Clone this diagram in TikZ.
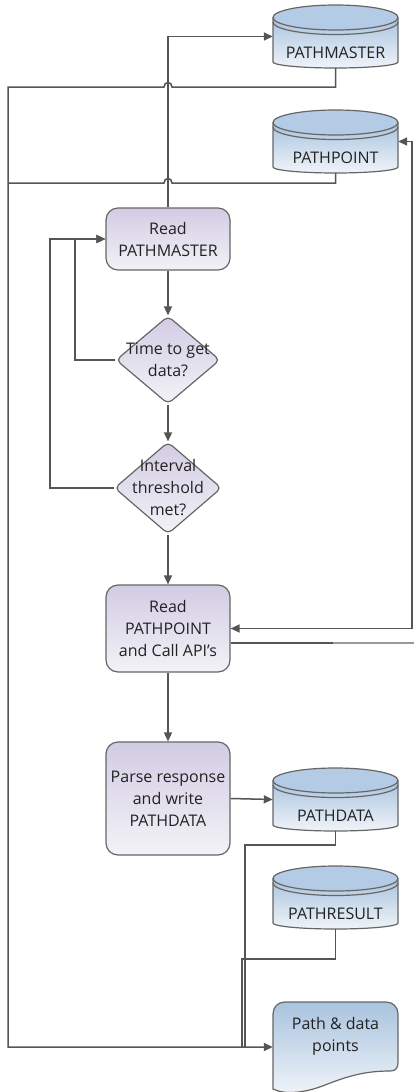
\documentclass[tikz,border=0pt]{standalone}
\usepackage{fontspec}
\setmainfont{Open Sans}
\usetikzlibrary{arrows.meta,shapes.geometric,calc}
\definecolor{edgec}{HTML}{666666}
\definecolor{connc}{HTML}{555555}
\definecolor{procTop}{HTML}{D2CCE3}
\definecolor{procBot}{HTML}{F3F2F7}
\definecolor{dbTop}{HTML}{A9C3DF}
\definecolor{dbBot}{HTML}{F0F4F9}
\definecolor{dbCap}{HTML}{B3CBE4}
\definecolor{txtc}{HTML}{222222}
\tikzset{
 proc/.style={draw=edgec, line width=1.2pt, rounded corners=12pt, top color=procTop, bottom color=procBot,
   minimum width=124pt, align=center, font=\fontsize{16}{22}\selectfont, text=txtc, inner sep=0pt},
 dia/.style={draw=edgec, line width=1.2pt, diamond, rounded corners=5pt, top color=procTop, bottom color=procBot, inner sep=0pt},
 lbl/.style={align=center, font=\fontsize{16}{22}\selectfont, text=txtc, inner sep=0pt},
 conn/.style={draw=connc, line width=1.5pt},
 tip/.tip={Triangle[length=9pt,width=8pt]},
 arr/.style={conn, -tip},
 anchorbox/.style={minimum width=125pt, minimum height=63pt, inner sep=0pt},
 dbedge/.style={draw=edgec, line width=1.2pt},
 dbshade/.style={top color=dbTop, bottom color=dbBot},
}
\newcommand{\dbcyl}[4]{%
 \begin{scope}[shift={(#2,#3)}]
  \path[dbshade] (0,12.5) -- (0,57) .. controls (0,60.3) and (28,63) .. (62.5,63) .. controls (97,63) and (125,60.3) .. (125,57) -- (125,12.5) -- cycle;
  \draw[dbedge] (0,12.5) -- (0,57) .. controls (0,60.3) and (28,63) .. (62.5,63) .. controls (97,63) and (125,60.3) .. (125,57) -- (125,12.5);
  \draw[dbedge, fill=dbCap] (62.5,12.5) ellipse [x radius=62.5, y radius=12.5];
  \draw[dbedge] (0,17) .. controls (0,23.9) and (28,29.5) .. (62.5,29.5) .. controls (97,29.5) and (125,23.9) .. (125,17);
  \node[anchorbox] (#1) at (62.5,31.5) {};
  \node[lbl] (#1-t) at (62.5,48) {#4};
 \end{scope}}
\begin{document}
\begin{tikzpicture}[x=1pt,y=-1pt]
\useasboundingbox[fill=white] (0,0) rectangle (414,1092);

% databases
\dbcyl{pm}{273}{5}{PATHMASTER}
\dbcyl{pp}{273}{110}{PATHPOINT}
\dbcyl{pd}{273}{768}{PATHDATA}
\dbcyl{pr}{273}{866}{PATHRESULT}

% document shape
\path[dbshade, dbedge]
 (273,1014) .. controls (273,1007) and (278,1002) .. (285,1002) -- (386,1002)
 .. controls (393,1002) and (398,1007) .. (398,1014) -- (398,1062)
 .. controls (398,1068) and (396,1071) .. (390,1071)
 .. controls (365,1071) and (348,1076) .. (325,1085)
 .. controls (305,1093) and (285,1095) .. (273,1089) -- cycle;
\node[anchorbox, minimum height=90pt] (doc) at (335.5,1047) {};
\node[lbl] (doc-t) at (335.5,1036) {Path \& data\\points};

% process nodes
\node[proc, minimum height=62pt] (rpm) at (168,239) {Read\\PATHMASTER};
\node[dia, minimum width=104pt, minimum height=88pt] (d1) at (168,360) {};
\node[lbl] (d1-t) at (d1) {Time to get\\data?};
\node[dia, minimum width=107pt, minimum height=92pt] (d2) at (168,488) {};
\node[lbl] (d2-t) at (d2) {Interval\\threshold\\met?};
\node[proc, minimum height=87pt] (rpp) at (168,628.5) {Read\\PATHPOINT\\and Call API’s};
\node[proc, minimum height=113pt] (parse) at (168,798.5) {Parse response\\and write\\PATHDATA};

% helper coordinates
\coordinate (h1a) at (164,87);
\coordinate (h1b) at (172,87);
\coordinate (h2a) at (164,183);
\coordinate (h2b) at (172,183);
\coordinate (L1) at (8,87);
\coordinate (L2) at (8,183);
\coordinate (k2) at (75,239);
\coordinate (k3) at (50,239);
\coordinate (r2) at (412,628.5);
\coordinate (ro) at ($(rpp.east)+(0,14.5)$);
\coordinate (re) at (414,643);
\coordinate (rm) at (333,643);
\coordinate (k4) at (245,845);
\coordinate (k5) at (245,1047);
\coordinate (k6) at (242,959);
\coordinate (k7) at (242,1047);

% connectors
\draw[arr] (rpm.north) |- (pm.west);
\draw[arr] (pm.south) |- (h1b) .. controls (172,81) and (164,81) .. (h1a) -- (L1) |- (doc.west);
\draw[conn] (pp.south) |- (h2b) .. controls (172,177) and (164,177) .. (h2a) -- (L2);
\draw[arr] (rpm.south) -- (d1.north);
\draw[arr] (d1.south) -- (d2.north);
\draw[arr] (d2.south) -- (rpp.north);
\draw[arr] (rpp.south) -- (parse.north);
\draw[arr] (d1.west) -| (k2) -- (rpm.west);
\draw[arr] (d2.west) -| (k3) -- (rpm.west);
\draw[conn, tip-tip] (pp.east) -| (r2) -- (rpp.east);
\draw[conn] (ro) -- (re);
\draw[draw=black!40, line width=2pt] (rm) -- (re);
\draw[arr] (parse.east) -- (pd.west);
\draw[conn] (pd.south) |- (k4) -- (k5);
\draw[conn] (pr.south) |- (k6) -- (k7);
\end{tikzpicture}
\end{document}
